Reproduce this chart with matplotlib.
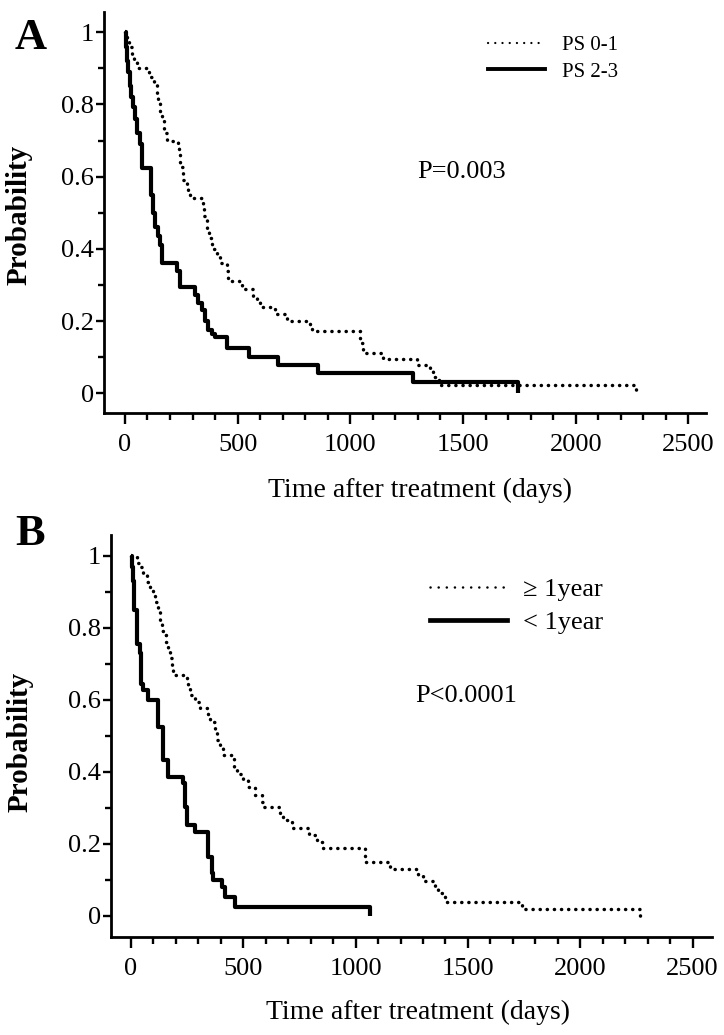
import matplotlib
matplotlib.use("Agg")
import matplotlib.pyplot as plt
from matplotlib.lines import Line2D
from matplotlib.ticker import MultipleLocator, FuncFormatter

plt.rcParams['font.family'] = ['Liberation Serif', 'DejaVu Serif']

# ---- data (days, survival probability) ----
# panel A : performance status
a_ps01_days = [0, 10, 20, 30, 40, 52, 108, 130, 140, 148, 155, 166, 173, 188,
               237, 241, 244, 259, 274, 281, 288, 345, 350, 362, 365, 374, 385,
               407, 421, 454, 458, 518, 569, 584, 599, 665, 717, 821, 828,
               1043, 1056, 1145, 1295, 1353, 1366, 1393, 2267]
a_ps01_surv = [1.0, 0.98, 0.96, 0.94, 0.92, 0.90, 0.877, 0.86, 0.83, 0.81, 0.775, 0.758, 0.72, 0.70,
               0.69, 0.67, 0.628, 0.59, 0.578, 0.56, 0.54, 0.52, 0.49, 0.47, 0.455, 0.43, 0.40,
               0.38, 0.36, 0.34, 0.31, 0.29, 0.27, 0.253, 0.24, 0.22, 0.20, 0.19, 0.172,
               0.138, 0.112, 0.094, 0.078, 0.062, 0.045, 0.023, 0.0]

a_ps23_days = [0, 5, 10, 15, 22, 29, 36, 44, 52, 67, 76, 115, 123, 135, 148, 155, 163,
               229, 244, 311, 325, 340, 355, 370, 385, 399, 451, 552, 680, 858, 1279, 1745]
a_ps23_surv = [1.0, 0.96, 0.92, 0.89, 0.85, 0.82, 0.794, 0.76, 0.72, 0.69, 0.623, 0.549, 0.50,
               0.46, 0.435, 0.41, 0.36, 0.338, 0.295, 0.272, 0.25, 0.23, 0.20, 0.175, 0.165,
               0.155, 0.125, 0.101, 0.078, 0.055, 0.032, 0.0]

# panel B : interval >= 1 year vs < 1 year
b_long_days = [0, 25, 33, 40, 55, 70, 85, 99, 107, 122, 129, 137, 144, 156, 166, 174, 181, 188,
               248, 255, 263, 285, 307, 344, 352, 374, 381, 396, 411, 459, 470, 500, 522, 552,
               582, 589, 663, 678, 715, 794, 827, 856, 1042, 1153, 1279, 1302, 1354, 1369,
               1398, 1739, 2266]
b_long_surv = [1.0, 0.99, 0.98, 0.97, 0.946, 0.928, 0.909, 0.89, 0.872, 0.854, 0.82, 0.79, 0.78,
               0.76, 0.743, 0.715, 0.69, 0.668, 0.645, 0.63, 0.613, 0.594, 0.576, 0.553, 0.539,
               0.516, 0.488, 0.465, 0.446, 0.409, 0.395, 0.377, 0.358, 0.335, 0.317, 0.303,
               0.284, 0.266, 0.243, 0.224, 0.206, 0.187, 0.15, 0.131, 0.113, 0.097, 0.08,
               0.062, 0.039, 0.02, 0.0]

b_short_days = [0, 3, 8, 13, 25, 40, 47, 55, 77, 122, 144, 166, 233, 240, 248, 285, 344, 359,
                367, 404, 419, 463, 1064]
b_short_surv = [1.0, 0.97, 0.93, 0.85, 0.756, 0.73, 0.645, 0.627, 0.60, 0.525, 0.432, 0.386,
                0.368, 0.303, 0.252, 0.233, 0.164, 0.118, 0.10, 0.08, 0.053, 0.025, 0.0]

labels_a = ["PS 0-1", "PS 2-3"]
labels_b = ["\u2265 1year", "< 1year"]
pvals = ["P=0.003", "P<0.0001"]
panel_names = ["A", "B"]
xlabel = "Time after treatment (days)"
ylabel = "Probability"

DOT = dict(color='black', lw=2.5, linestyle=(0, (0.05, 2.0)), dash_capstyle='round')
SOLID = dict(color='black', lw=3.0, solid_capstyle='butt')

fig = plt.figure(figsize=(7.24, 10.35), dpi=100)
W, H = 724.0, 1035.0
axA = fig.add_axes([104 / W, 1 - 413.3 / H, 602 / W, 401.3 / H])
axB = fig.add_axes([110.7 / W, 1 - 936.7 / H, 601 / W, 401.7 / H])


def style_axes(ax, xlim, ylim):
    ax.set_xlim(*xlim)
    ax.set_ylim(*ylim)
    for s in ['top', 'right']:
        ax.spines[s].set_visible(False)
    for s in ['left', 'bottom']:
        ax.spines[s].set_linewidth(2)
    ax.xaxis.set_major_locator(MultipleLocator(500))
    ax.xaxis.set_minor_locator(MultipleLocator(100))
    ax.yaxis.set_major_locator(MultipleLocator(0.2))
    ax.yaxis.set_minor_locator(MultipleLocator(0.1))
    ax.yaxis.set_major_formatter(FuncFormatter(lambda v, p: '%g' % round(v, 2)))
    ax.tick_params(axis='x', which='major', length=8, width=1.7, labelsize=19, pad=7)
    ax.tick_params(axis='x', which='minor', length=5, width=1.7)
    ax.tick_params(axis='y', which='major', length=6, width=1.7, labelsize=19, pad=1)
    ax.tick_params(axis='y', which='minor', length=4, width=1.7)
    ax.set_xlabel(xlabel, fontsize=20)
    ax.set_ylabel(ylabel, fontsize=21, fontweight='bold')


style_axes(axA, (-93, 2578), (-0.0554, 1.056))
style_axes(axB, (-90, 2585), (-0.058, 1.0575))

axA.step(a_ps01_days, a_ps01_surv, where='post', **DOT)
axA.step(a_ps23_days, a_ps23_surv, where='post', **SOLID)
axB.step(b_long_days, b_long_surv, where='post', **DOT)
axB.step(b_short_days, b_short_surv, where='post', **SOLID)

axA.xaxis.set_label_coords(0.525, -0.162)
axB.xaxis.set_label_coords(0.512, -0.157)
axA.yaxis.set_label_coords(-0.118, 0.494)
axB.yaxis.set_label_coords(-0.129, 0.486)

# legends
hA = [Line2D([], [], color='black', lw=1.6, linestyle=(0, (0.05, 3.2)), dash_capstyle='round'),
      Line2D([], [], color='black', lw=2.8)]
axA.legend(hA, labels_a, loc='center left', bbox_to_anchor=(488 / W, 1 - 58.5 / H),
           bbox_transform=fig.transFigure, frameon=False, fontsize=15,
           handlelength=2.75, handletextpad=0.8, labelspacing=0.35,
           borderpad=0, borderaxespad=0)
hB = [Line2D([], [], color='black', lw=1.8, linestyle=(0, (0.05, 3.2)), dash_capstyle='round'),
      Line2D([], [], color='black', lw=3.4)]
axB.legend(hB, labels_b, loc='center left', bbox_to_anchor=(430 / W, 1 - 606 / H),
           bbox_transform=fig.transFigure, frameon=False, fontsize=19,
           handlelength=2.9, handletextpad=0.64, labelspacing=0.38,
           borderpad=0, borderaxespad=0)

fig.text(462 / W, 1 - 172 / H, pvals[0], fontsize=19, ha='center', va='center')
fig.text(466 / W, 1 - 696 / H, pvals[1], fontsize=19, ha='center', va='center')

fig.text(31 / W, 1 - 38 / H, panel_names[0], fontsize=32, fontweight='bold', ha='center', va='center')
fig.text(30 / W, 1 - 534 / H, panel_names[1], fontsize=32, fontweight='bold', ha='center', va='center')

fig.savefig('out.png', dpi=100)
